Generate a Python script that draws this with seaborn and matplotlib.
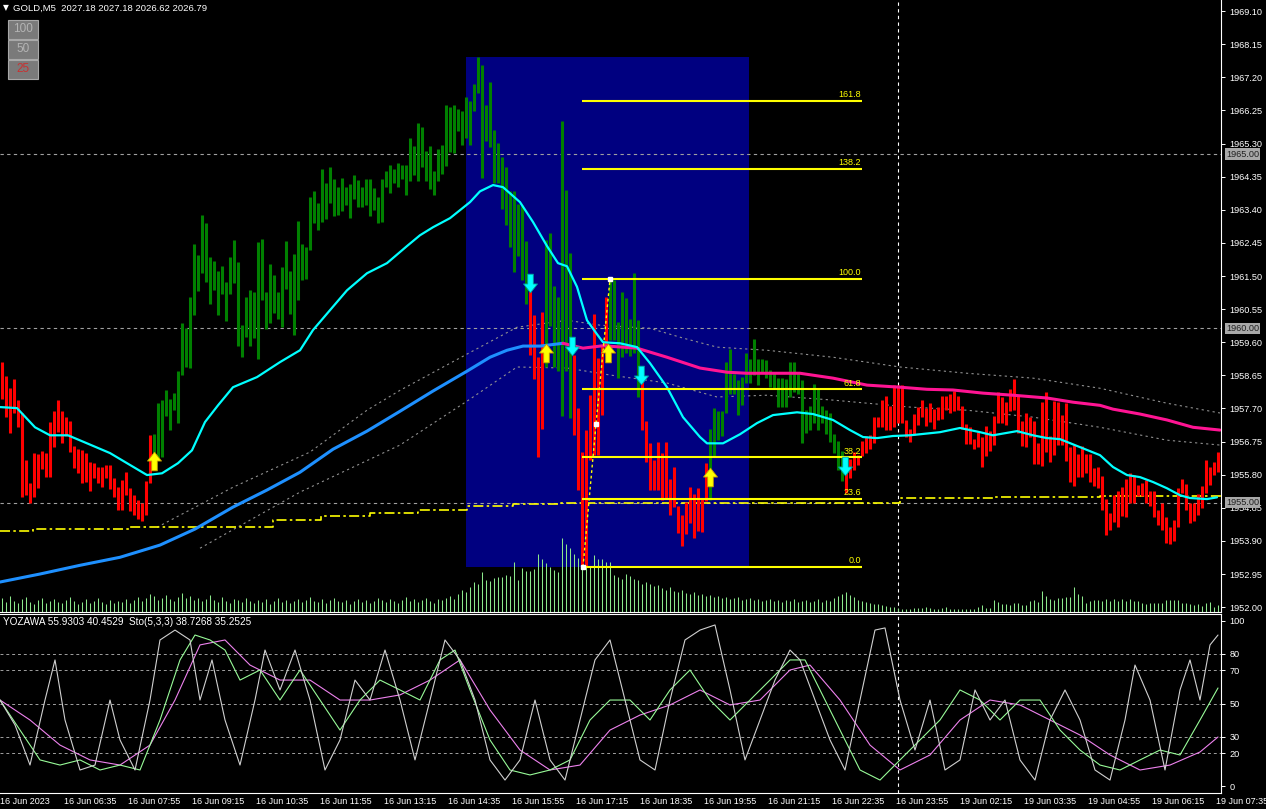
import matplotlib
matplotlib.use("Agg")
import seaborn as sns
import matplotlib.pyplot as plt
import matplotlib.transforms as mtransforms
from matplotlib.path import Path
from matplotlib.patches import Rectangle

sns.set_theme(style="dark", rc={"axes.facecolor": "black", "figure.facecolor": "black",
                                "axes.grid": False, "axes.edgecolor": "white"})
plt.rcParams["font.family"] = ["Liberation Sans", "DejaVu Sans"]

# ---------------- data: GOLD M5 bars (high / low) ----------------
bar_high = [
    1959.09, 1959.03, 1958.63, 1958.28, 1958.54, 1957.94, 1957.56, 1956.22, 1955.56, 1956.42,
    1956.39, 1956.47, 1956.42, 1957.31, 1957.62, 1957.94, 1957.62, 1957.45, 1957.34, 1956.62,
    1956.53, 1956.50, 1956.42, 1956.16, 1956.13, 1956.02, 1956.02, 1956.07, 1956.07, 1955.70,
    1955.44, 1955.64, 1955.87, 1955.41, 1955.21, 1955.07, 1954.98, 1955.61, 1956.94, 1956.96,
    1957.85, 1957.94, 1958.22, 1957.97, 1958.14, 1958.77, 1960.15, 1960.00, 1960.89, 1962.41,
    1962.10, 1963.25, 1963.02, 1962.04, 1961.93, 1961.64, 1961.78, 1961.32, 1962.04, 1962.53,
    1961.90, 1960.09, 1960.89, 1961.09, 1961.04, 1962.47, 1962.56, 1961.04, 1961.84, 1961.53,
    1961.04, 1961.75, 1962.50, 1961.64, 1962.13, 1963.08, 1962.41, 1962.33, 1963.76, 1963.94,
    1963.59, 1964.57, 1964.17, 1964.62, 1964.28, 1964.05, 1964.31, 1964.05, 1964.14, 1964.39,
    1964.25, 1964.05, 1964.28, 1964.28, 1964.02, 1963.76, 1964.28, 1964.51, 1964.68, 1964.57,
    1964.74, 1964.68, 1964.68, 1965.46, 1965.23, 1965.89, 1965.77, 1965.08, 1965.23, 1964.51,
    1965.14, 1965.26, 1966.40, 1966.35, 1966.40, 1966.29, 1966.23, 1966.63, 1966.52, 1967.01,
    1967.78, 1967.55, 1966.40, 1967.06, 1965.69, 1965.31, 1964.91, 1964.62, 1963.94, 1963.94,
    1963.56, 1963.53, 1962.50, 1961.09, 1960.38, 1959.17, 1960.46, 1962.53, 1962.73, 1961.21,
    1960.89, 1965.94, 1963.96, 1962.16, 1959.23, 1957.71, 1956.45, 1957.08, 1958.08, 1960.41,
    1959.14, 1959.52, 1960.89, 1961.44, 1961.38, 1960.18, 1961.04, 1960.87, 1960.26, 1961.58,
    1960.23, 1958.46, 1957.34, 1956.70, 1956.22, 1956.73, 1956.42, 1956.73, 1955.67, 1956.02,
    1954.90, 1954.64, 1955.01, 1955.44, 1955.24, 1955.41, 1955.13, 1956.13, 1957.11, 1957.71,
    1957.62, 1957.62, 1959.03, 1959.40, 1958.68, 1958.51, 1958.60, 1959.29, 1959.11, 1959.69,
    1959.11, 1959.11, 1959.09, 1958.80, 1958.71, 1958.57, 1958.57, 1958.54, 1959.03, 1959.03,
    1958.71, 1958.51, 1957.65, 1957.77, 1958.40, 1958.28, 1957.77, 1957.65, 1957.56, 1956.96,
    1956.76, 1956.47, 1956.22, 1956.24, 1956.45, 1956.36, 1956.76, 1956.91, 1956.94, 1957.45,
    1957.45, 1957.94, 1958.05, 1957.77, 1958.37, 1958.37, 1958.37, 1957.36, 1957.11, 1957.54,
    1957.74, 1957.94, 1957.71, 1957.85, 1957.68, 1957.74, 1958.05, 1958.05, 1958.11, 1958.20,
    1958.05, 1957.77, 1957.25, 1957.16, 1956.82, 1957.02, 1956.88, 1957.19, 1957.05, 1957.48,
    1958.17, 1958.03, 1957.88, 1958.25, 1958.54, 1958.08, 1957.34, 1957.56, 1957.45, 1957.34,
    1956.70, 1957.88, 1958.17, 1956.91, 1957.91, 1957.88, 1957.51, 1957.85, 1956.59, 1956.65,
    1956.39, 1956.62, 1956.39, 1956.39, 1955.99, 1956.02, 1955.76, 1955.10, 1954.70, 1955.21,
    1955.33, 1955.44, 1955.67, 1955.84, 1955.79, 1955.50, 1955.56, 1955.64, 1955.33, 1955.33,
    1954.78, 1954.98, 1954.58, 1954.29, 1954.49, 1955.41, 1955.67, 1955.53, 1954.98, 1954.98,
    1955.24, 1955.47, 1956.22, 1956.02, 1956.16, 1956.45,
]
bar_low = [
    1958.08, 1957.97, 1957.45, 1956.99, 1957.56, 1957.16, 1955.15, 1955.21, 1954.98, 1955.15,
    1955.41, 1955.96, 1955.73, 1955.73, 1956.59, 1957.02, 1956.70, 1956.91, 1956.45, 1955.99,
    1955.84, 1955.56, 1955.59, 1955.33, 1955.70, 1955.56, 1955.44, 1955.70, 1955.39, 1955.15,
    1954.78, 1954.78, 1955.21, 1954.75, 1954.64, 1954.52, 1954.47, 1954.64, 1955.56, 1956.30,
    1956.27, 1956.30, 1957.48, 1957.08, 1957.65, 1957.28, 1958.66, 1958.89, 1958.86, 1960.38,
    1961.07, 1961.58, 1961.32, 1960.69, 1961.09, 1960.38, 1960.98, 1960.21, 1960.98, 1961.30,
    1959.49, 1959.17, 1959.74, 1959.49, 1959.71, 1959.11, 1960.81, 1959.98, 1960.15, 1960.43,
    1960.26, 1960.03, 1961.12, 1960.41, 1959.80, 1960.81, 1961.38, 1961.41, 1962.24, 1963.02,
    1962.82, 1963.05, 1963.13, 1963.59, 1963.22, 1963.25, 1963.36, 1963.53, 1963.16, 1963.71,
    1963.48, 1963.48, 1963.53, 1963.22, 1963.39, 1963.02, 1963.05, 1964.05, 1963.88, 1964.17,
    1964.05, 1964.28, 1963.82, 1964.22, 1964.39, 1964.22, 1964.62, 1964.22, 1964.00, 1963.82,
    1964.22, 1964.42, 1964.65, 1965.05, 1965.03, 1965.66, 1965.26, 1965.46, 1965.26, 1966.23,
    1966.75, 1964.31, 1965.37, 1965.20, 1964.17, 1964.17, 1963.42, 1962.96, 1962.33, 1961.61,
    1962.07, 1961.38, 1960.69, 1959.23, 1958.54, 1956.30, 1957.11, 1958.89, 1960.06, 1958.89,
    1958.77, 1957.48, 1958.77, 1957.42, 1956.94, 1955.36, 1953.17, 1953.17, 1956.22, 1956.36,
    1956.36, 1957.51, 1959.23, 1959.66, 1959.66, 1958.57, 1959.17, 1959.29, 1959.20, 1959.29,
    1958.03, 1957.08, 1956.16, 1955.36, 1955.36, 1955.36, 1955.07, 1955.13, 1954.64, 1954.87,
    1954.12, 1953.75, 1954.09, 1954.41, 1953.98, 1954.18, 1954.15, 1955.04, 1955.07, 1956.30,
    1956.79, 1956.91, 1957.56, 1958.11, 1958.11, 1957.51, 1957.79, 1958.43, 1958.43, 1958.66,
    1958.37, 1958.74, 1958.57, 1958.31, 1958.28, 1957.74, 1957.74, 1957.74, 1958.03, 1958.17,
    1958.11, 1956.70, 1956.99, 1957.08, 1957.28, 1957.08, 1957.28, 1956.96, 1956.73, 1956.42,
    1955.93, 1955.61, 1955.27, 1955.70, 1955.93, 1956.07, 1956.33, 1956.42, 1956.53, 1956.70,
    1957.16, 1957.16, 1957.08, 1957.08, 1957.16, 1957.28, 1957.28, 1956.88, 1956.73, 1956.94,
    1957.22, 1957.45, 1957.19, 1957.31, 1957.11, 1957.36, 1957.39, 1957.65, 1957.56, 1957.62,
    1957.65, 1957.11, 1956.68, 1956.68, 1956.53, 1956.59, 1956.02, 1956.33, 1956.47, 1956.65,
    1957.28, 1957.28, 1957.22, 1957.62, 1957.65, 1956.99, 1956.62, 1956.59, 1956.88, 1956.10,
    1956.10, 1956.05, 1956.45, 1956.16, 1956.36, 1956.65, 1956.65, 1956.19, 1955.59, 1955.47,
    1955.73, 1955.73, 1955.84, 1955.59, 1955.47, 1955.41, 1954.78, 1954.07, 1954.21, 1954.44,
    1954.29, 1954.61, 1954.58, 1954.98, 1954.98, 1955.18, 1955.18, 1954.98, 1954.90, 1954.58,
    1954.35, 1954.21, 1953.84, 1953.81, 1953.89, 1954.29, 1955.27, 1954.78, 1954.41, 1954.47,
    1954.64, 1954.84, 1955.27, 1955.50, 1955.79, 1955.87,
]
# trend colouring of the bars: (first bar, last bar, direction)
trend_runs = [(0, 38, "down"), (39, 132, "up"), (133, 136, "down"), (137, 143, "up"),
              (144, 152, "down"), (153, 160, "up"), (161, 177, "down"), (178, 211, "up"),
              (212, 305, "down")]

tick_volume = (
    [12, 14, 10, 16, 11, 9, 13, 15, 10, 8, 12, 14, 9, 11, 13, 10]
    + [9, 12, 15, 11, 8, 10, 13, 9, 11, 14, 10, 8, 12, 9, 11, 10]
    + [13, 9, 12, 15, 11, 14, 18, 16, 12, 14, 17, 13, 11, 15, 19, 14]
    + [16, 12, 14, 11, 13, 17, 12, 10, 15, 11, 9, 13, 12, 10, 14, 11]
    + [9, 12, 10, 13, 8, 11, 14, 10, 12, 9, 11, 13, 10, 12, 15, 11]
    + [10, 13, 9, 12, 14, 11, 10, 12, 8, 11, 13, 10, 12, 9, 11, 14]
    + [12, 10, 13, 11, 9, 12, 15, 11, 13, 10, 12, 14, 11, 9, 13, 12]
    + [14, 16, 13, 18, 22, 20, 25, 30, 28]
    + [40, 32, 31, 34, 35, 35, 37, 36, 50, 32, 44, 41, 41, 43, 58, 53, 49, 45, 42, 40,
       74, 68, 64, 58, 54, 57, 61, 45, 57, 53, 53, 50]
    + [50, 37, 35, 33, 38, 36, 33, 32, 28]
    + [30, 28, 26, 27, 24, 22, 25, 21, 20, 22, 19, 18, 20, 17]
    + [18, 16, 17, 15, 16, 14, 15, 13, 14, 15, 12, 13, 14, 12, 13, 11]
    + [12, 13, 11, 12, 10, 12, 11, 13, 10, 11, 12, 10, 11, 13, 10, 12]
    + [11, 14, 16, 18, 20, 17, 15, 12, 11, 10, 9, 8, 8, 7, 6, 5, 5, 4]
    + [3, 3, 3, 4, 4, 4, 5, 4, 3, 3, 4, 5, 3, 3, 3, 3, 3, 3, 3, 5]
    + [7, 4, 4, 12, 10, 8, 8, 7, 9, 9, 7, 7, 11, 12, 10, 21, 16, 13, 12, 14]
    + [14, 15, 15, 25, 18, 16, 9, 11, 12, 12, 11, 13, 11, 13, 11, 13, 11, 13, 11, 11]
    + [9, 8, 9, 9, 9, 9, 12, 12, 12, 12, 9, 9, 8, 7, 8, 6, 9, 10, 5, 7]
)
n_bars = len(bar_high)
assert len(bar_low) == n_bars and len(tick_volume) == n_bars, (len(bar_low), len(tick_volume))

# fast MA (cyan)
fast_ma_bar = [0.5, 4.75, 9.25, 13, 17.5, 22.25, 28, 32.25, 37.25, 41, 45, 48.5, 51.75, 55, 58.75,
               64.75, 70.5, 74.75, 75.5, 78.75, 82.25, 87.25, 92.25, 97.25, 102.25, 105.5, 108.75,
               113, 118, 120.5, 123.75, 126.25, 130.5, 133.75, 137.25, 140, 142.25, 144.75, 147.25,
               149.75, 151.25, 155.5, 159.75, 163, 167.25, 171.25, 175.5, 177.25, 181.25, 185.5,
               189.75, 193.75, 199.75, 203.75, 208.75, 213, 216.25, 219.75, 223.75, 228, 230.5,
               235.5, 240.5, 245.5, 248.75, 254.75, 258.75, 262.25, 265.5, 270.5, 275.5, 278.75,
               282.25, 285.5, 288.75, 292.25, 295.5, 298, 302.25, 304.75]
fast_ma = [1957.74, 1957.71, 1957.16, 1956.93, 1956.93, 1956.70, 1956.42, 1956.13, 1955.79, 1955.84,
           1956.13, 1956.50, 1957.31, 1957.79, 1958.31, 1958.60, 1959.03, 1959.32, 1959.37, 1959.95,
           1960.42, 1961.09, 1961.58, 1961.87, 1962.36, 1962.67, 1962.90, 1963.16, 1963.62, 1963.93,
           1964.11, 1964.05, 1963.62, 1963.05, 1962.36, 1961.87, 1961.78, 1961.19, 1960.23, 1959.83,
           1959.60, 1959.57, 1959.46, 1959.00, 1958.31, 1957.45, 1956.88, 1956.70, 1956.70, 1956.96,
           1957.28, 1957.51, 1957.59, 1957.54, 1957.37, 1957.08, 1956.88, 1956.85, 1956.91, 1956.93,
           1956.96, 1957.02, 1957.14, 1957.02, 1956.93, 1957.05, 1956.93, 1956.85, 1956.82, 1956.59,
           1956.36, 1956.02, 1955.79, 1955.73, 1955.59, 1955.41, 1955.21, 1955.13, 1955.10, 1955.15]

# slow MA (blue while rising, pink once it turns)
slow_ma_bar = [0.5, 10.5, 20.5, 30.5, 40.5, 49.25, 58.75, 67.25, 75.5, 83.75, 92.25, 100.5, 108.75,
               117.25, 123, 127.25, 131.25, 135.5, 141.25, 146.25, 151.25, 159.75, 167.25, 175.5,
               182.25, 187.25, 200.5, 208.75, 217.25, 225.5, 232.25, 238.75, 246.25, 253.75, 262.25,
               268.75, 275.5, 278.75, 285.5, 292.25, 298.75, 305.5]
slow_ma = [1952.72, 1952.95, 1953.20, 1953.43, 1953.78, 1954.24, 1954.87, 1955.36, 1955.87, 1956.53,
           1957.05, 1957.62, 1958.20, 1958.77, 1959.17, 1959.37, 1959.49, 1959.49, 1959.57, 1959.43,
           1959.50, 1959.43, 1959.17, 1958.86, 1958.74, 1958.71, 1958.71, 1958.57, 1958.37, 1958.31,
           1958.25, 1958.23, 1958.14, 1958.08, 1958.00, 1957.88, 1957.79, 1957.68, 1957.54, 1957.37,
           1957.16, 1957.08]
slow_turn_bar = 141.25

env_up_bar = [39.75, 58.75, 78, 92.25, 100.5, 117.25, 129.75, 142.25, 150.5, 163, 171.25, 179.75,
              192.25, 208.75, 225.5, 242.25, 258.75, 275.5, 292.25, 305.5]
env_up = [1954.29, 1955.44, 1956.45, 1957.65, 1958.22, 1959.26, 1960.03, 1960.23, 1960.09, 1960.00,
          1959.72, 1959.46, 1959.37, 1959.17, 1958.89, 1958.71, 1958.57, 1958.28, 1957.85, 1957.57]
env_dn_bar = [50.5, 75.5, 100.5, 117.25, 129.75, 142.25, 153, 167.25, 179.75, 192.25, 208.75, 228,
              242.25, 258.75, 275.5, 292.25, 305.5]
env_dn = [1953.69, 1955.30, 1956.65, 1957.91, 1958.89, 1958.86, 1958.66, 1958.43, 1958.03, 1958.08,
          1957.94, 1957.74, 1957.65, 1957.45, 1957.16, 1956.79, 1956.65]

# higher timeframe level (yellow dash-dot steps)
htf_bar = [0.5, 8.75, 33, 68.75, 80.75, 93, 105, 117.25, 128.75, 140.5, 225.5, 248.75, 275.5, 305.75]
htf_val = [1954.18, 1954.24, 1954.30, 1954.50, 1954.61, 1954.70, 1954.80, 1954.90, 1954.95, 1955.00,
           1955.13, 1955.15, 1955.18, 1955.18]

round_levels = [1965.00, 1960.00, 1955.00]

# fibonacci retracement
fib_labels = ["0.0", "23.6", "38.2", "61.8", "100.0", "138.2", "161.8"]
fib_prices = [1953.15, 1955.10, 1956.30, 1958.25, 1961.41, 1964.57, 1966.52]
fib_from_bar, fib_to_bar = 146, 216
box_from_bar, box_to_bar = 117, 187.75
box_low, box_high = 1953.15, 1967.78
zigzag_bar = [146.25, 149.5, 153]
zigzag_val = [1953.15, 1957.25, 1961.41]

buy_bar = [39, 137, 152.5, 178]
buy_val = [1956.19, 1959.29, 1959.29, 1955.73]
sell_bar = [133, 143.5, 160.75, 211.75]
sell_val = [1961.30, 1959.49, 1958.67, 1956.06]

crosshair_bar = 225

# oscillator
yoz_bar = [0.5, 4.25, 8, 11.75, 14.25, 16.75, 20.5, 24.25, 28, 30.5, 34.25, 38, 40.5, 44.25, 48,
           50.5, 53.5, 56.75, 60.5, 64.25, 66.75, 70.5, 74.25, 78, 81.75, 85.5, 89.25, 93, 96.75,
           100.5, 104.25, 108, 111.75, 115.5, 119.25, 123, 126.75, 130.5, 134.25, 138, 141.75,
           145.5, 149.25, 153, 156.75, 160.5, 164.25, 168, 171.75, 175.5, 179.25, 183, 186.75,
           190.5, 194.25, 198, 200.5, 204.25, 208, 211.75, 215.5, 219.25, 221.75, 225.5, 229.25,
           233, 236.75, 240.5, 244.25, 248, 251.75, 255.5, 259.25, 263, 266.75, 270.5, 274.25,
           278, 281.75, 284.25, 288, 291.75, 295.5, 298, 300.5, 303, 305]
yoz_val = [52.1, 37.0, 12.7, 52.1, 76.4, 40.0, 9.7, 12.7, 52.1, 27.9, 9.7, 52.1, 88.5, 94.5, 88.5,
           52.1, 76.4, 40.0, 12.7, 52.1, 82.4, 58.2, 82.4, 52.1, 9.7, 27.9, 64.2, 52.1, 82.4,
           52.1, 15.8, 52.1, 88.5, 76.4, 52.1, 15.8, 3.6, 15.8, 52.1, 15.8, 3.6,
           40.0, 76.4, 88.5, 52.1, 15.8, 9.7, 52.1, 88.5, 94.5, 97.6, 58.2, 15.8,
           40.0, 64.2, 82.4, 76.4, 52.1, 27.9, 9.7, 52.1, 94.5, 95.8, 52.1, 21.8,
           52.1, 9.7, 15.8, 58.2, 40.0, 52.1, 15.8, 3.6, 40.0, 58.2, 40.0, 9.7,
           3.6, 40.0, 73.3, 52.1, 9.7, 58.2, 76.4, 52.1, 85.5, 91.5]
sto_bar = [0.5, 5.5, 10.5, 15.5, 20.5, 25.5, 30.5, 35.5, 40.5, 45.5, 49.25, 53, 56.75, 60.5, 65.5,
           70.5, 75.5, 80.5, 85.5, 90.5, 95.5, 100.5, 105.5, 110.5, 114.25, 118, 123, 128, 133,
           138, 143, 148, 153, 158, 163, 168, 173, 178, 183, 188, 193, 198, 201.75, 205.5, 210.5,
           215.5, 220.5, 225.5, 230.5, 235.5, 240.5, 245.5, 250.5, 255.5, 260.5, 265.5, 270.5,
           275.5, 280.5, 285.5, 290.5, 295.5, 300.5, 305]
sto_main = [52.1, 33.9, 15.8, 12.7, 15.8, 9.7, 12.7, 9.7, 40.0, 76.4, 91.5, 88.5, 82.4, 64.2, 70.3,
            52.1, 70.3, 52.1, 33.9, 52.1, 64.2, 58.2, 52.1, 76.4, 82.4, 58.2, 27.9, 9.7, 6.7,
            9.7, 15.8, 40.0, 52.1, 52.1, 40.0, 58.2, 70.3, 52.1, 40.0, 52.1, 64.2, 76.4, 76.4, 58.2, 33.9,
            9.7, 3.6, 15.8, 27.9, 40.0, 58.2, 52.1, 40.0, 52.1, 52.1, 33.9, 21.8,
            12.7, 9.7, 15.8, 21.8, 18.8, 40.0, 59.4]
sig_bar = [0.5, 8, 15.5, 23, 30.5, 38, 44.25, 50.5, 56.75, 63, 70.5, 78, 85.5, 93, 100.5, 108,
           115.5, 123, 130.5, 138, 145.5, 153, 160.5, 168, 175.5, 183, 190.5, 198, 203, 210.5,
           218, 225.5, 233, 240.5, 248, 255.5, 263, 270.5, 278, 285.5, 293, 300.5, 305]
sto_signal = [52.1, 40.0, 24.8, 15.8, 12.7, 24.8, 52.1, 85.5, 88.5, 73.3, 64.2, 64.2, 52.1, 52.1,
              55.2, 64.2, 76.4, 46.1, 21.8, 9.7, 12.7, 33.9, 43.0, 49.1, 58.2, 49.1, 52.1, 70.3,
              73.3, 52.1, 24.8, 9.7, 18.8, 40.0, 52.1, 49.1, 40.0, 30.9, 18.8, 9.7, 12.7, 20.6, 29.7]
osc_levels = [20, 30, 50, 70, 80]
osc_ticks = [0, 20, 30, 50, 70, 80, 100]

price_ticks = [1952.00, 1952.95, 1953.90, 1954.85, 1955.80, 1956.75, 1957.70, 1958.65, 1959.60,
               1960.55, 1961.50, 1962.45, 1963.40, 1964.35, 1965.30, 1966.25, 1967.20, 1968.15,
               1969.10]
time_labels = ["16 Jun 2023", "16 Jun 06:35", "16 Jun 07:55", "16 Jun 09:15", "16 Jun 10:35",
               "16 Jun 11:55", "16 Jun 13:15", "16 Jun 14:35", "16 Jun 15:55", "16 Jun 17:15",
               "16 Jun 18:35", "16 Jun 19:55", "16 Jun 21:15", "16 Jun 22:35", "16 Jun 23:55",
               "19 Jun 02:15", "19 Jun 03:35", "19 Jun 04:55", "19 Jun 06:15", "19 Jun 07:35"]
bars_per_label = 16

# ---------------- layout ----------------
W, H = 1266, 809
fig = plt.figure(figsize=(W / 100, H / 100), dpi=100)


def px_rect(x0, y0, x1, y1):
    return [x0 / W, 1 - y1 / H, (x1 - x0) / W, (y1 - y0) / H]


ax = fig.add_axes(px_rect(0, 0, 1221, 612))
osc = fig.add_axes(px_rect(0, 614, 1221, 793))
xlim = (0.5, 0.5 + 1221 / 4)
for a in (ax, osc):
    a.set_facecolor("black")
    a.set_xlim(*xlim)
    a.spines["left"].set_visible(False)
    for s in ("right", "bottom", "top"):
        a.spines[s].set_color("white")
        a.spines[s].set_linewidth(0.8)
ax.spines["top"].set_visible(False)
ax.set_ylim(1951.86, 1969.42)
osc.set_ylim(-4.24, 104.24)

WHITE = "white"
GREEN_BAR, RED_BAR = "#008000", "#FF0000"
YELLOW = "#FFFF00"

# fib box
ax.add_patch(Rectangle((box_from_bar, box_low), box_to_bar - box_from_bar, box_high - box_low,
                       facecolor="#000080", edgecolor="none", zorder=0.5))

# horizontal round levels + crosshair
for lv in round_levels:
    ax.axhline(lv, color="#A0A0A0", lw=0.8, ls=(0, (3, 3)), zorder=1)
for a in (ax, osc):
    a.axvline(crosshair_bar, color=WHITE, lw=0.8, ls=(0, (3, 3)), zorder=1)

# volumes (own scale, bottom of the price panel)
ax.vlines(range(n_bars), 0, [v / 612 for v in tick_volume], transform=ax.get_xaxis_transform(),
          colors="#8CE88C", lw=0.75, zorder=2)

# price bars
bar_colors = []
for start, end, trend in trend_runs:
    bar_colors += [GREEN_BAR if trend == "up" else RED_BAR] * (end - start + 1)
ax.vlines(range(n_bars), bar_low, bar_high, colors=bar_colors, lw=2.2, zorder=3)

# envelopes and moving averages
sns.lineplot(x=env_up_bar, y=env_up, ax=ax, color="#909090", lw=0.8, ls=(0, (2, 3)),
             sort=False, estimator=None, legend=False, zorder=2.5)
sns.lineplot(x=env_dn_bar, y=env_dn, ax=ax, color="#909090", lw=0.8, ls=(0, (2, 3)),
             sort=False, estimator=None, legend=False, zorder=2.5)
ax.step(htf_bar, htf_val, where="post", color=YELLOW, lw=1.2, ls=(0, (6, 2, 1.5, 2)), zorder=2.6)

rise_x = [b for b in slow_ma_bar if b <= slow_turn_bar]
rise_y = slow_ma[:len(rise_x)]
fall_x = slow_ma_bar[len(rise_x) - 1:]
fall_y = slow_ma[len(rise_x) - 1:]
sns.lineplot(x=rise_x, y=rise_y, ax=ax, color="#1E90FF", lw=2.2, sort=False, estimator=None,
             legend=False, zorder=4)
sns.lineplot(x=fall_x, y=fall_y, ax=ax, color="#FF1493", lw=2.2, sort=False, estimator=None,
             legend=False, zorder=4)
sns.lineplot(x=fast_ma_bar, y=fast_ma, ax=ax, color="#00FFFF", lw=1.6, sort=False, estimator=None,
             legend=False, zorder=4.2)

# fibonacci lines and labels
ax.hlines(fib_prices, fib_from_bar, fib_to_bar, colors=YELLOW, lw=1.5, zorder=4.5)
for lab, pr in zip(fib_labels, fib_prices):
    ax.text(fib_to_bar - 0.25, pr + 0.05, lab, color=YELLOW, fontsize=6.5, ha="right", va="bottom",
            zorder=5)
ax.plot(zigzag_bar, zigzag_val, color=YELLOW, lw=1.0, ls=(0, (2, 2)), zorder=4.6)
ax.plot(zigzag_bar, zigzag_val, ls="none", marker="s", ms=2.5, color=WHITE, zorder=4.7)

# signal arrows
up_arrow = Path([(-0.75, 0.05), (0, 1), (0.75, 0.05), (0.3, 0.05), (0.3, -1), (-0.3, -1),
                 (-0.3, 0.05), (-0.75, 0.05)], closed=True)
down_arrow = Path([(x, -y) for x, y in up_arrow.vertices], closed=True)
ax.scatter(buy_bar, buy_val, marker=up_arrow, s=180, c=YELLOW, edgecolors="#C8A000",
           linewidths=0.6, zorder=6)
ax.scatter(sell_bar, sell_val, marker=down_arrow, s=180, c="#00FFFF", edgecolors="#00A0A0",
           linewidths=0.6, zorder=6)

# price axis
ax.yaxis.tick_right()
ax.set_yticks(price_ticks)
ax.set_yticklabels([f"{t:.2f}" for t in price_ticks])
ax.tick_params(axis="y", colors=WHITE, labelsize=6.6, length=3, width=0.7, pad=3)
ax.tick_params(axis="x", bottom=False, labelbottom=False)
ax.set_xlabel("")
ax.set_ylabel("")
for lv in round_levels:
    ax.text(1 + 5 / 1221, lv, f"{lv:.2f}", transform=ax.get_yaxis_transform(), ha="left",
            va="center", fontsize=6.6, color="#202020", zorder=10, clip_on=False,
            bbox=dict(boxstyle="square,pad=0.12", fc="#A8A8A8", ec="none"))

# oscillator
for lv in osc_levels:
    osc.axhline(lv, color="#A0A0A0", lw=0.7, ls=(0, (3, 3)), zorder=1)
sns.lineplot(x=sig_bar, y=sto_signal, ax=osc, color="#EE82EE", lw=0.8, sort=False, estimator=None,
             legend=False)
sns.lineplot(x=sto_bar, y=sto_main, ax=osc, color="#98FB98", lw=0.8, sort=False, estimator=None,
             legend=False)
sns.lineplot(x=yoz_bar, y=yoz_val, ax=osc, color="#D0D0D0", lw=0.8, sort=False, estimator=None,
             legend=False)
osc.yaxis.tick_right()
osc.set_yticks(osc_ticks)
osc.set_yticklabels([str(t) for t in osc_ticks])
osc.tick_params(axis="y", colors=WHITE, labelsize=6.6, length=3, width=0.7, pad=3)
osc.set_xticks([k * bars_per_label for k in range(1, len(time_labels))])
osc.tick_params(axis="x", colors=WHITE, length=3, width=0.7, labelbottom=False)
osc.set_xlabel("")
osc.set_ylabel("")

# time labels
tr = mtransforms.blended_transform_factory(osc.transData, fig.transFigure)
for k, lab in enumerate(time_labels):
    fig.text(k * bars_per_label + 0.6, 1 - 801 / H, lab, transform=tr, color=WHITE,
             fontsize=6.5, ha="left", va="center")

# header texts and scale buttons
fig.text(3 / W, 1 - 8 / H, "\u25bc", color=WHITE, fontsize=5.5, ha="left", va="center",
         family="DejaVu Sans")
fig.text(13 / W, 1 - 8 / H, "GOLD,M5  2027.18 2027.18 2026.62 2026.79", color=WHITE,
         fontsize=6.8, ha="left", va="center")
fig.text(3 / W, 1 - 622 / H, "YOZAWA 55.9303 40.4529  Sto(5,3,3) 38.7268 35.2525", color=WHITE,
         fontsize=7.2, ha="left", va="center")
for k, (lab, col) in enumerate([("100", "#B4B4B4"), ("50", "#B4B4B4"), ("25", "#C83232")]):
    y0 = 20 + 20 * k
    fig.add_artist(Rectangle((8 / W, 1 - (y0 + 19) / H), 30 / W, 19 / H, transform=fig.transFigure,
                             facecolor="#7A7A7A", edgecolor="#A8A8A8", lw=0.8))
    fig.text(23 / W, 1 - (y0 + 9.5) / H, lab, color=col, fontsize=8.5, ha="center", va="center")

fig.savefig("out.png", dpi=100, facecolor="black")
